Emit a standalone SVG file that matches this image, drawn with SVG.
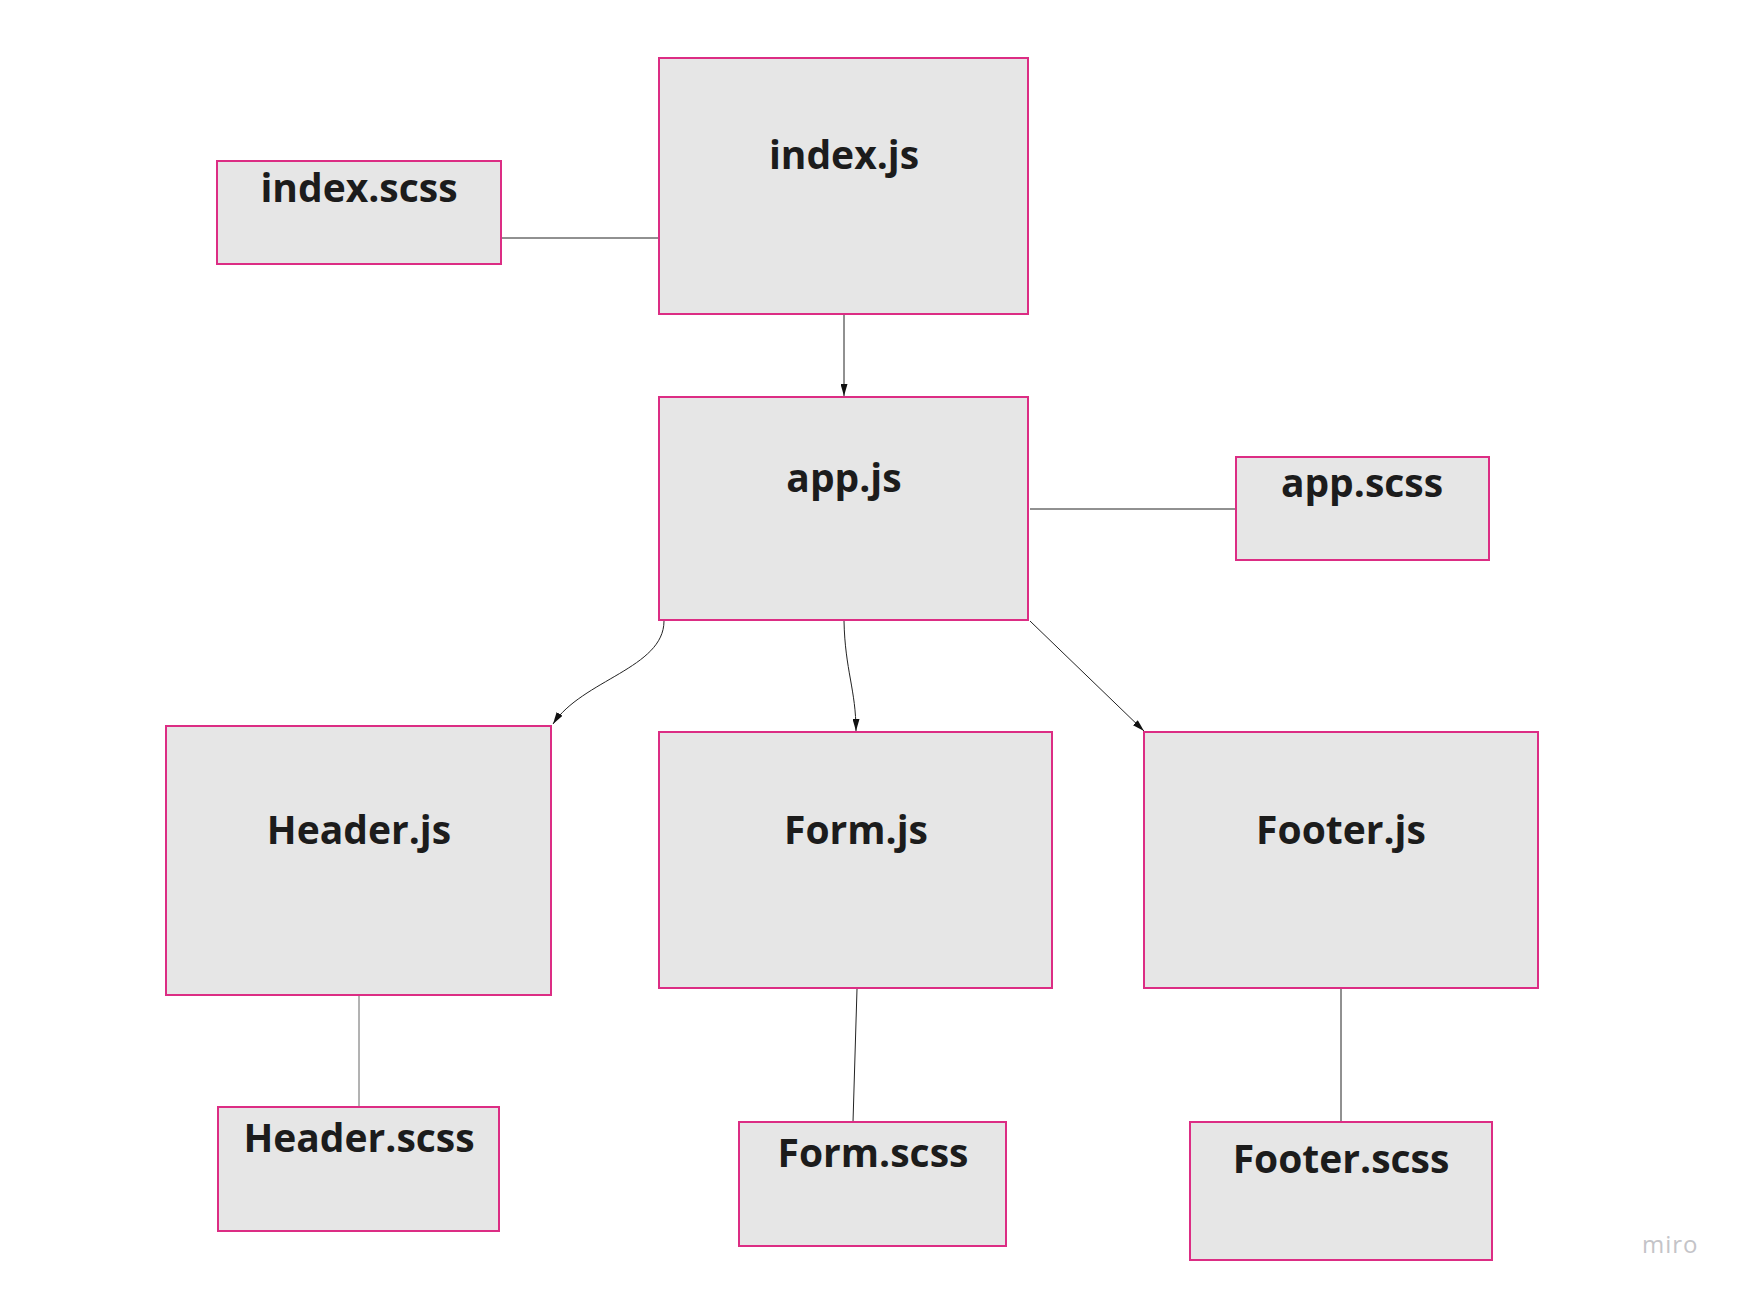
<svg xmlns="http://www.w3.org/2000/svg" width="1737" height="1294" viewBox="0 0 1737 1294">
<style>
.box{fill:#e6e6e6;stroke:#dc2d84;stroke-width:2}
.lbl{font-family:"Open Sans","Liberation Sans",sans-serif;font-weight:bold;font-size:39px;fill:#1c1c1c;text-anchor:middle}
.ln{fill:none;stroke:#222;stroke-width:1}
.lnl{fill:none;stroke:#666;stroke-width:1}
.wm{font-family:"Open Sans","Liberation Sans",sans-serif;font-size:24px;fill:#c4c4c8;letter-spacing:1px}
</style>
<defs>
<marker id="arr" viewBox="0 0 12 7" refX="12" refY="3.5" markerWidth="12" markerHeight="7" markerUnits="userSpaceOnUse" orient="auto">
<path d="M0,0 L12,3.5 L0,7 z" fill="#111"/>
</marker>
</defs>
<rect width="1737" height="1294" fill="#fff"/>
<g id="connectors">
<line class="ln" x1="502" y1="238" x2="659" y2="238"/>
<line class="ln" x1="844" y1="315" x2="844" y2="396" marker-end="url(#arr)"/>
<line class="ln" x1="1030" y1="509" x2="1236" y2="509"/>
<path class="ln" d="M664,621 C664,668 582,680 553,724" marker-end="url(#arr)"/>
<path class="ln" d="M844,621 C845,670 856,690 856,731" marker-end="url(#arr)"/>
<line class="ln" x1="1030" y1="621" x2="1144" y2="731" marker-end="url(#arr)"/>
<line class="lnl" x1="359" y1="996" x2="359" y2="1107"/>
<line class="ln" x1="857" y1="989" x2="853" y2="1122"/>
<line class="ln" x1="1341" y1="989" x2="1341" y2="1122"/>
</g>
<g id="index-scss"><rect class="box" x="217" y="161" width="284" height="103"/><text class="lbl" x="359" y="202">index.scss</text></g>
<g id="index-js"><rect class="box" x="659" y="58" width="369" height="256"/><text class="lbl" x="844" y="169">index.js</text></g>
<g id="app-js"><rect class="box" x="659" y="397" width="369" height="223"/><text class="lbl" x="844" y="492">app.js</text></g>
<g id="app-scss"><rect class="box" x="1236" y="457" width="253" height="103"/><text class="lbl" x="1362" y="497">app.scss</text></g>
<g id="header-js"><rect class="box" x="166" y="726" width="385" height="269"/><text class="lbl" x="359" y="844">Header.js</text></g>
<g id="form-js"><rect class="box" x="659" y="732" width="393" height="256"/><text class="lbl" x="856" y="844">Form.js</text></g>
<g id="footer-js"><rect class="box" x="1144" y="732" width="394" height="256"/><text class="lbl" x="1341" y="844">Footer.js</text></g>
<g id="header-scss"><rect class="box" x="218" y="1107" width="281" height="124"/><text class="lbl" x="359" y="1152">Header.scss</text></g>
<g id="form-scss"><rect class="box" x="739" y="1122" width="267" height="124"/><text class="lbl" x="873" y="1167">Form.scss</text></g>
<g id="footer-scss"><rect class="box" x="1190" y="1122" width="302" height="138"/><text class="lbl" x="1341" y="1173">Footer.scss</text></g>
<text class="wm" x="1642" y="1253">miro</text>
</svg>
